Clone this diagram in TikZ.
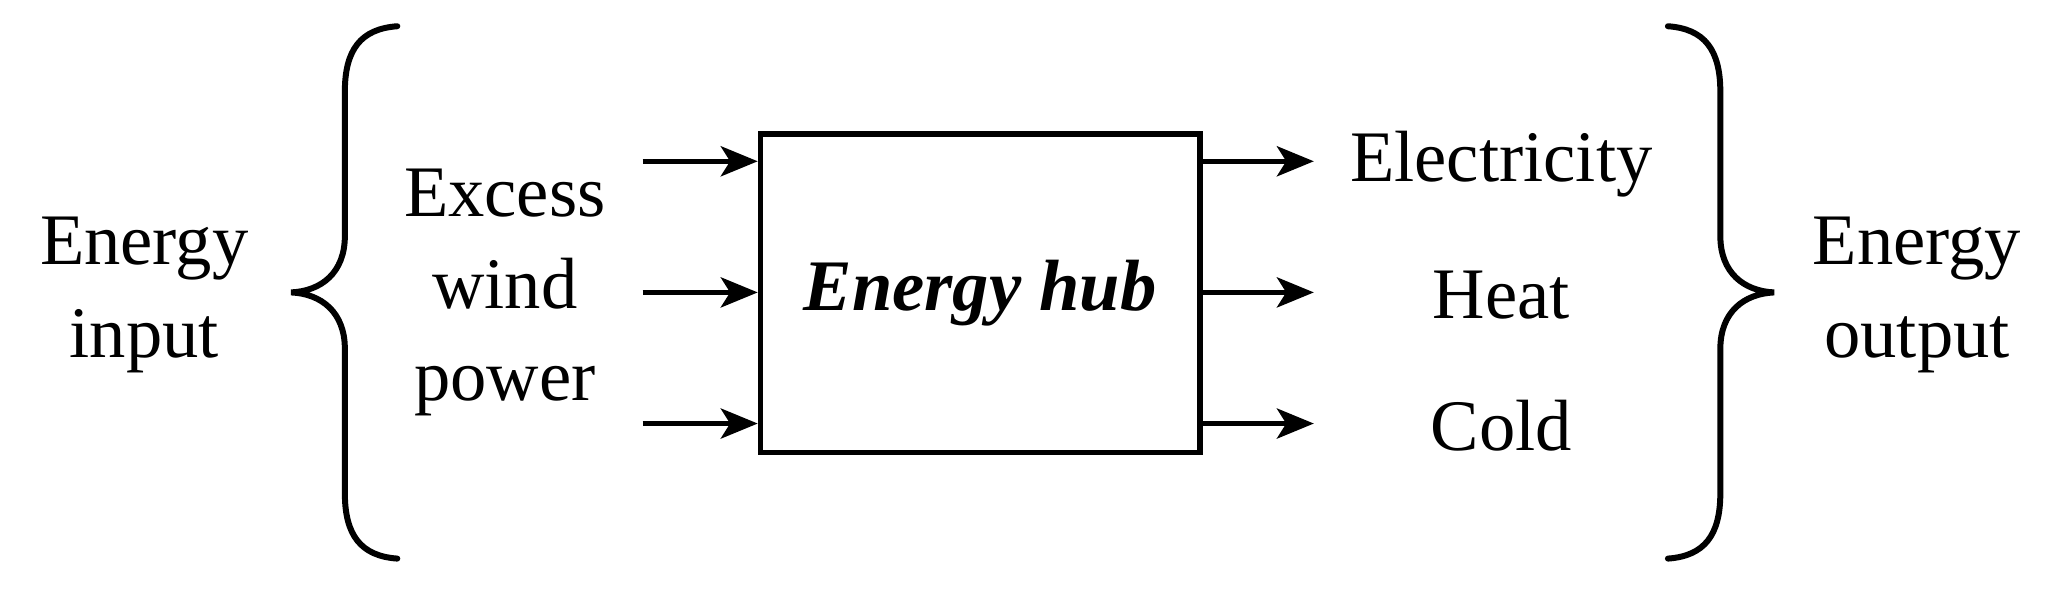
\documentclass[tikz,border=0pt]{standalone}
\usepackage{fontspec}
\setmainfont{Liberation Serif}
\usetikzlibrary{arrows.meta}
\begin{document}
\begin{tikzpicture}[x=0.02cm,y=-0.02cm,
  txt/.style={font=\fontsize{31.5}{40}\selectfont,align=center,inner sep=0pt},
  arr/.style={-{Stealth[length=16pt,width=13pt,inset=4pt]},line width=2.4pt},
  brc/.style={line width=2.6pt,line cap=round}]
\useasboundingbox (0,0) rectangle (1568,451);
\node[draw,line width=2.4pt,minimum width=335*0.02cm,minimum height=243*0.02cm,txt,font=\fontsize{31.5}{40}\selectfont\bfseries\itshape] (hub) at (747.5,223.5) {Energy hub};
\foreach \y/\n in {123/a,223/b,323/c}{
  \coordinate (in\n) at (490,\y);
  \coordinate (hi\n) at (hub.west |- 0,\y);
  \coordinate (ho\n) at (hub.east |- 0,\y);
  \coordinate (out\n) at (1002,\y);
  \draw[arr] (in\n) -- (hi\n);
  \draw[arr] (ho\n) -- (out\n);
}
\node[txt] (ein) at (110,225) {Energy\\input};
\node[txt] (exc) at (385,223) {Excess\\wind\\power};
\node[txt] (el) at (1145,125) {Electricity};
\node[txt] (he) at (1145,225) {Heat};
\node[txt] (co) at (1145,325) {Cold};
\node[txt] (eout) at (1462,225) {Energy\\output};
\draw[brc] (303,20) .. controls (275,22) and (263,38) .. (263,70) -- (263,180)
  .. controls (263,208) and (245,222) .. (222,223)
  .. controls (245,224) and (263,238) .. (263,266) -- (263,376)
  .. controls (263,408) and (275,424) .. (303,426);
\draw[brc] (1272,20) .. controls (1300,22) and (1312,38) .. (1312,70) -- (1312,180)
  .. controls (1312,208) and (1330,222) .. (1353,223)
  .. controls (1330,224) and (1312,238) .. (1312,266) -- (1312,376)
  .. controls (1312,408) and (1300,424) .. (1272,426);
\end{tikzpicture}
\end{document}
